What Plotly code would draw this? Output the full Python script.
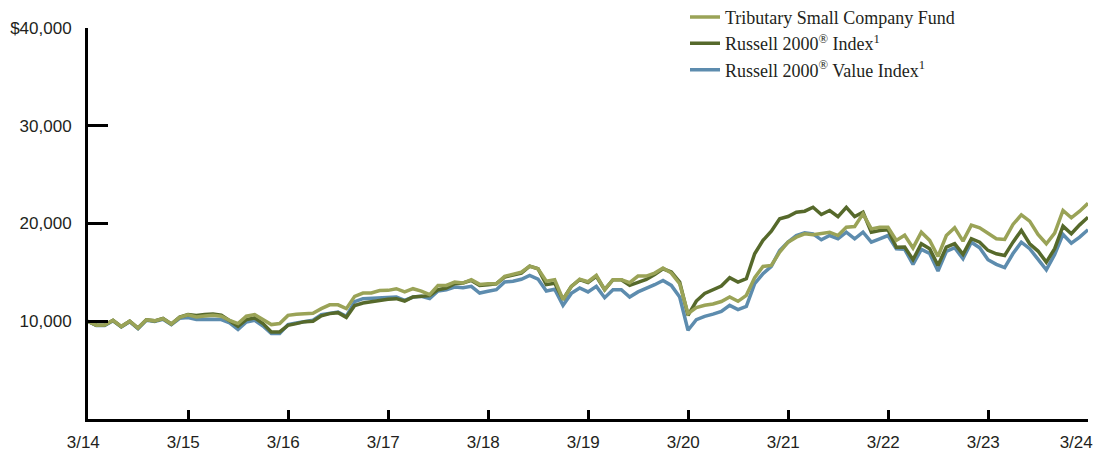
import plotly.graph_objects as go

months = list(range(121))
x_tick_vals = [0, 12, 24, 36, 48, 60, 72, 84, 96, 108, 120]
x_tick_text = ["3/14", "3/15", "3/16", "3/17", "3/18", "3/19", "3/20", "3/21", "3/22", "3/23", "3/24"]
y_tick_vals = [10000, 20000, 30000, 40000]
y_tick_text = ["10,000", "20,000", "30,000", "$40,000"]

fund = [10000, 9590, 9620, 10100, 9460, 10000, 9300, 10150, 10040, 10270, 9720, 10400,
        10650, 10440, 10540, 10620, 10520, 10080, 9760, 10520, 10680, 10170, 9660, 9760,
        10600, 10720, 10780, 10820, 11290, 11680, 11680, 11290, 12550, 12890, 12890, 13150,
        13160, 13330, 13000, 13330, 13090, 12720, 13670, 13670, 14010, 13910, 14250, 13770,
        13840, 13840, 14590, 14820, 15030, 15640, 15370, 14100, 14250, 12230, 13550, 14300,
        14040, 14690, 13230, 14250, 14250, 13940, 14620, 14620, 14930, 15440, 14930, 13840,
        10780, 11390, 11630, 11770, 12020, 12480, 12040, 12650, 14460, 15610, 15710, 17070,
        18090, 18600, 18940, 18840, 18940, 19110, 18770, 19620, 19690, 20990, 19450, 19620,
        19620, 18270, 18800, 17500, 19110, 18270, 16630, 18770, 19560, 18200, 19830, 19560,
        19010, 18440, 18370, 19900, 20890, 20240, 18880, 17930, 19010, 21330, 20580, 21260,
        22070]

russell2000 = [10000, 9600, 9620, 10100, 9460, 10000, 9300, 10150, 10040, 10280, 9720, 10420,
               10680, 10580, 10680, 10750, 10620, 10070, 9490, 10170, 10340, 9760, 8910, 8910,
               9590, 9760, 9960, 10000, 10560, 10780, 10880, 10400, 11600, 11870, 12000, 12190,
               12240, 12310, 12070, 12480, 12550, 12620, 13230, 13400, 13840, 13910, 14180, 13670,
               13740, 13840, 14520, 14690, 14930, 15640, 15370, 13760, 13880, 12230, 13570, 14250,
               13970, 14590, 13230, 14250, 14250, 13670, 13940, 14280, 14790, 15370, 15030, 14010,
               10610, 12070, 12850, 13250, 13600, 14460, 14010, 14350, 16910, 18270, 19210, 20480,
               20710, 21150, 21260, 21660, 20920, 21330, 20710, 21660, 20710, 21150, 19110, 19280,
               19350, 17580, 17600, 16300, 17930, 17420, 15710, 17590, 17930, 16840, 18440, 18090,
               17250, 16900, 16730, 18090, 19290, 17930, 17180, 16050, 17420, 19730, 18950, 19860,
               20640]

russell2000_value = [10000, 9560, 9560, 10050, 9420, 9950, 9250, 10100, 9980, 10200, 9650, 10300,
                     10370, 10170, 10200, 10200, 10170, 9830, 9150, 9930, 10100, 9520, 8740, 8740,
                     9660, 9830, 9950, 10100, 10680, 10850, 10950, 10510, 12000, 12310, 12350, 12380,
                     12410, 12480, 12140, 12480, 12550, 12310, 13090, 13230, 13500, 13430, 13570, 12890,
                     13060, 13230, 14010, 14100, 14300, 14690, 14310, 13090, 13280, 11630, 12850, 13400,
                     13000, 13570, 12410, 13230, 13230, 12480, 13000, 13330, 13740, 14180, 13670, 12480,
                     9080, 10170, 10500, 10730, 11000, 11630, 11190, 11530, 13840, 14860, 15610, 17240,
                     18090, 18770, 19050, 18940, 18330, 18770, 18430, 19110, 18430, 19110, 18090, 18430,
                     18770, 17420, 17360, 15820, 17350, 16930, 15130, 17140, 17520, 16400, 18090, 17520,
                     16300, 15820, 15480, 16930, 18090, 17420, 16300, 15270, 16830, 18880, 17990, 18600,
                     19360]

names = ["Tributary Small Company Fund",
         "Russell 2000<sup>®</sup> Index<sup>1</sup>",
         "Russell 2000<sup>®</sup> Value Index<sup>1</sup>"]
colors = ["#9AA357", "#56692B", "#5D8CAE"]

fig = go.Figure()
fig.add_trace(go.Scatter(x=months, y=russell2000_value, mode="lines", name=names[2],
                         line=dict(color=colors[2], width=3.5)))
fig.add_trace(go.Scatter(x=months, y=russell2000, mode="lines", name=names[1],
                         line=dict(color=colors[1], width=3.5)))
fig.add_trace(go.Scatter(x=months, y=fund, mode="lines", name=names[0],
                         line=dict(color=colors[0], width=3.5)))

tick_font = dict(family="Liberation Sans, Arial, sans-serif", size=17, color="#231F20")
# trailing no-break spaces nudge each centred label a little left of its tick, as in the reference;
# the last one is nudged further so it stays inside the window
x_tick_labels = [t + "\u00a0\u00a0" for t in x_tick_text[:-1]] + [x_tick_text[-1] + "\u00a0" * 5]

# page body has an 8px default margin, so the figure is offset by 8px
fig.update_layout(
    width=1101, height=450,
    margin=dict(l=80, r=21, t=20, b=39, autoexpand=False),
    plot_bgcolor="white", paper_bgcolor="white",
    showlegend=True,
    legend=dict(x=0.597, y=1.075, xanchor="left", yanchor="top",
                traceorder="reversed",
                font=dict(family="Liberation Serif, DejaVu Serif, serif", size=18, color="#231F20"),
                bgcolor="rgba(0,0,0,0)", tracegroupgap=0, itemwidth=30),
    xaxis=dict(range=[0, 120], tickvals=x_tick_vals, ticktext=x_tick_labels,
               showgrid=False, zeroline=False, showline=True, linecolor="black", linewidth=3,
               ticks="inside", ticklen=9, tickwidth=2.5, tickcolor="black",
               ticklabelstandoff=6, ticklabeloverflow="allow", tickfont=tick_font),
    yaxis=dict(range=[0, 40000], tickvals=y_tick_vals, ticktext=y_tick_text,
               showgrid=False, zeroline=False, showline=True, linecolor="black", linewidth=3,
               ticks="inside", ticklen=20, tickwidth=3, tickcolor="black",
               ticklabelstandoff=10, tickfont=tick_font),
)

fig.write_html("out.html")
